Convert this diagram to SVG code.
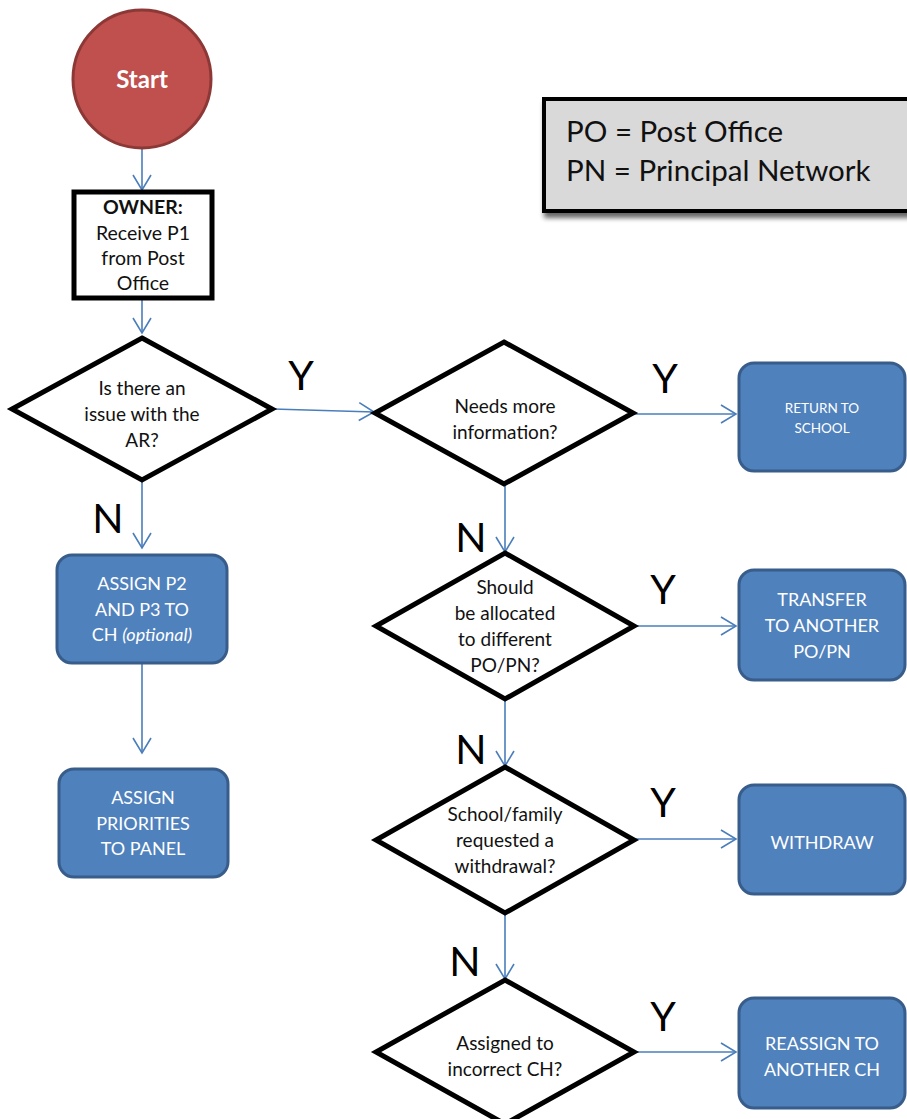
<svg xmlns="http://www.w3.org/2000/svg" width="907" height="1119" viewBox="0 0 907 1119">
  <style>
    .t { font-family: Lato, "Open Sans", sans-serif; fill: #111; text-anchor: middle; }
    .dt { font-size: 19px; }
    .ot { font-size: 19.5px; }
    .bt { font-family: Lato, "Open Sans", sans-serif; fill: #ffffff; text-anchor: middle; font-size: 18px; }
    .yn { font-family: Lato, "Open Sans", sans-serif; fill: #000; text-anchor: middle; font-size: 41px; }
    .dia { fill: #ffffff; stroke: #000; stroke-width: 5; stroke-linejoin: miter; }
    .blue { fill: #4f81bd; stroke: #385d8a; stroke-width: 3; }
    .conn { stroke: #4a7ebb; stroke-width: 1.6; fill: none; }
  </style>
  <defs>
    <marker id="arr" viewBox="0 0 20 20" refX="18" refY="10" markerWidth="20" markerHeight="20" markerUnits="userSpaceOnUse" orient="auto">
      <path d="M3,1 L18,10 L3,19" fill="none" stroke="#4a7ebb" stroke-width="1.6"/>
    </marker>
    <filter id="shadow" x="-10%" y="-10%" width="130%" height="140%">
      <feGaussianBlur in="SourceAlpha" stdDeviation="2.5"/>
      <feOffset dx="2" dy="5" result="b"/>
      <feComponentTransfer><feFuncA type="linear" slope="0.6"/></feComponentTransfer>
      <feMerge><feMergeNode/><feMergeNode in="SourceGraphic"/></feMerge>
    </filter>
  </defs>

  <rect width="907" height="1119" fill="#ffffff"/>

  <g id="connectors">
    <line class="conn" x1="142" y1="149" x2="142" y2="190" marker-end="url(#arr)"/>
    <line class="conn" x1="142" y1="300" x2="142" y2="333" marker-end="url(#arr)"/>
    <line class="conn" x1="142" y1="481" x2="142" y2="548" marker-end="url(#arr)"/>
    <line class="conn" x1="142" y1="664" x2="142" y2="753" marker-end="url(#arr)"/>
    <line class="conn" x1="273" y1="409" x2="374" y2="412" marker-end="url(#arr)"/>
    <line class="conn" x1="634" y1="414" x2="736" y2="414" marker-end="url(#arr)"/>
    <line class="conn" x1="505" y1="485" x2="505" y2="552" marker-end="url(#arr)"/>
    <line class="conn" x1="634" y1="626" x2="736" y2="626" marker-end="url(#arr)"/>
    <line class="conn" x1="505" y1="700" x2="505" y2="766" marker-end="url(#arr)"/>
    <line class="conn" x1="634" y1="839" x2="736" y2="839" marker-end="url(#arr)"/>
    <line class="conn" x1="505" y1="915" x2="505" y2="979" marker-end="url(#arr)"/>
    <line class="conn" x1="634" y1="1052" x2="736" y2="1052" marker-end="url(#arr)"/>
  </g>

  <g id="legend">
    <rect x="544" y="99" width="370" height="112" fill="#d9d9d9" stroke="#000" stroke-width="4" filter="url(#shadow)"/>
    <text class="t" x="566" y="142" style="text-anchor:start; font-size:29.5px">PO = Post Office</text>
    <text class="t" x="566" y="181" style="text-anchor:start; font-size:29.5px">PN = Principal Network</text>
  </g>

  <g id="start">
    <circle cx="142" cy="79" r="69" fill="#c0504d" stroke="#8c3836" stroke-width="3"/>
    <text x="142" y="88" style="font-family: Lato, 'Open Sans', sans-serif; font-weight: bold; font-size: 24px; fill: #fff; text-anchor: middle">Start</text>
  </g>

  <g id="owner">
    <rect x="74" y="192" width="138" height="106" fill="#fff" stroke="#000" stroke-width="5"/>
    <text class="t ot" x="143" y="214" font-weight="bold">OWNER:</text>
    <text class="t ot" x="143" y="240">Receive P1</text>
    <text class="t ot" x="143" y="265">from Post</text>
    <text class="t ot" x="143" y="290">Office</text>
  </g>

  <g id="d1">
    <polygon class="dia" points="142,338 272,409 142,480 12,409"/>
    <text class="t dt" x="142" y="395">Is there an</text>
    <text class="t dt" x="142" y="421">issue with the</text>
    <text class="t dt" x="142" y="447">AR?</text>
  </g>

  <g id="d2">
    <polygon class="dia" points="504,342 633,413 504,484 375,413"/>
    <text class="t dt" x="505" y="413">Needs more</text>
    <text class="t dt" x="505" y="439">information?</text>
  </g>

  <g id="d3">
    <polygon class="dia" points="505,553 634,626 505,699 376,626"/>
    <text class="t dt" x="505" y="594">Should</text>
    <text class="t dt" x="505" y="620">be allocated</text>
    <text class="t dt" x="505" y="646">to different</text>
    <text class="t dt" x="505" y="672">PO/PN?</text>
  </g>

  <g id="d4">
    <polygon class="dia" points="505,767 634,840 505,913 376,840"/>
    <text class="t dt" x="505" y="821">School/family</text>
    <text class="t dt" x="505" y="847">requested a</text>
    <text class="t dt" x="505" y="873">withdrawal?</text>
  </g>

  <g id="d5">
    <polygon class="dia" points="505,980 634,1052 505,1124 376,1052"/>
    <text class="t dt" x="505" y="1050">Assigned to</text>
    <text class="t dt" x="505" y="1076">incorrect CH?</text>
  </g>

  <g id="assign-p2">
    <rect class="blue" x="57" y="555" width="170" height="108" rx="15"/>
    <text class="bt" x="142" y="590">ASSIGN P2</text>
    <text class="bt" x="142" y="616">AND P3 TO</text>
    <text class="bt" x="142" y="641">CH <tspan font-style="italic">(optional)</tspan></text>
  </g>

  <g id="assign-priorities">
    <rect class="blue" x="59" y="769" width="169" height="108" rx="15"/>
    <text class="bt" x="143" y="804">ASSIGN</text>
    <text class="bt" x="143" y="830">PRIORITIES</text>
    <text class="bt" x="143" y="855">TO PANEL</text>
  </g>

  <g id="return-school">
    <rect class="blue" x="739" y="363" width="166" height="108" rx="15"/>
    <text class="bt" x="822" y="413" style="font-size:13.5px">RETURN TO</text>
    <text class="bt" x="822" y="433" style="font-size:13.5px">SCHOOL</text>
  </g>

  <g id="transfer">
    <rect class="blue" x="739" y="570" width="166" height="110" rx="15"/>
    <text class="bt" x="822" y="606">TRANSFER</text>
    <text class="bt" x="822" y="632">TO ANOTHER</text>
    <text class="bt" x="822" y="658">PO/PN</text>
  </g>

  <g id="withdraw">
    <rect class="blue" x="739" y="785" width="166" height="109" rx="15"/>
    <text class="bt" x="822" y="849">WITHDRAW</text>
  </g>

  <g id="reassign">
    <rect class="blue" x="739" y="998" width="166" height="110" rx="15"/>
    <text class="bt" x="822" y="1050">REASSIGN TO</text>
    <text class="bt" x="822" y="1076">ANOTHER CH</text>
  </g>

  <g id="labels">
    <text class="yn" x="301" y="390">Y</text>
    <text class="yn" x="665" y="393">Y</text>
    <text class="yn" x="663" y="604">Y</text>
    <text class="yn" x="663" y="817">Y</text>
    <text class="yn" x="663" y="1031">Y</text>
    <text class="yn" x="108" y="533">N</text>
    <text class="yn" x="471" y="552">N</text>
    <text class="yn" x="471" y="764">N</text>
    <text class="yn" x="465" y="976">N</text>
  </g>
</svg>
